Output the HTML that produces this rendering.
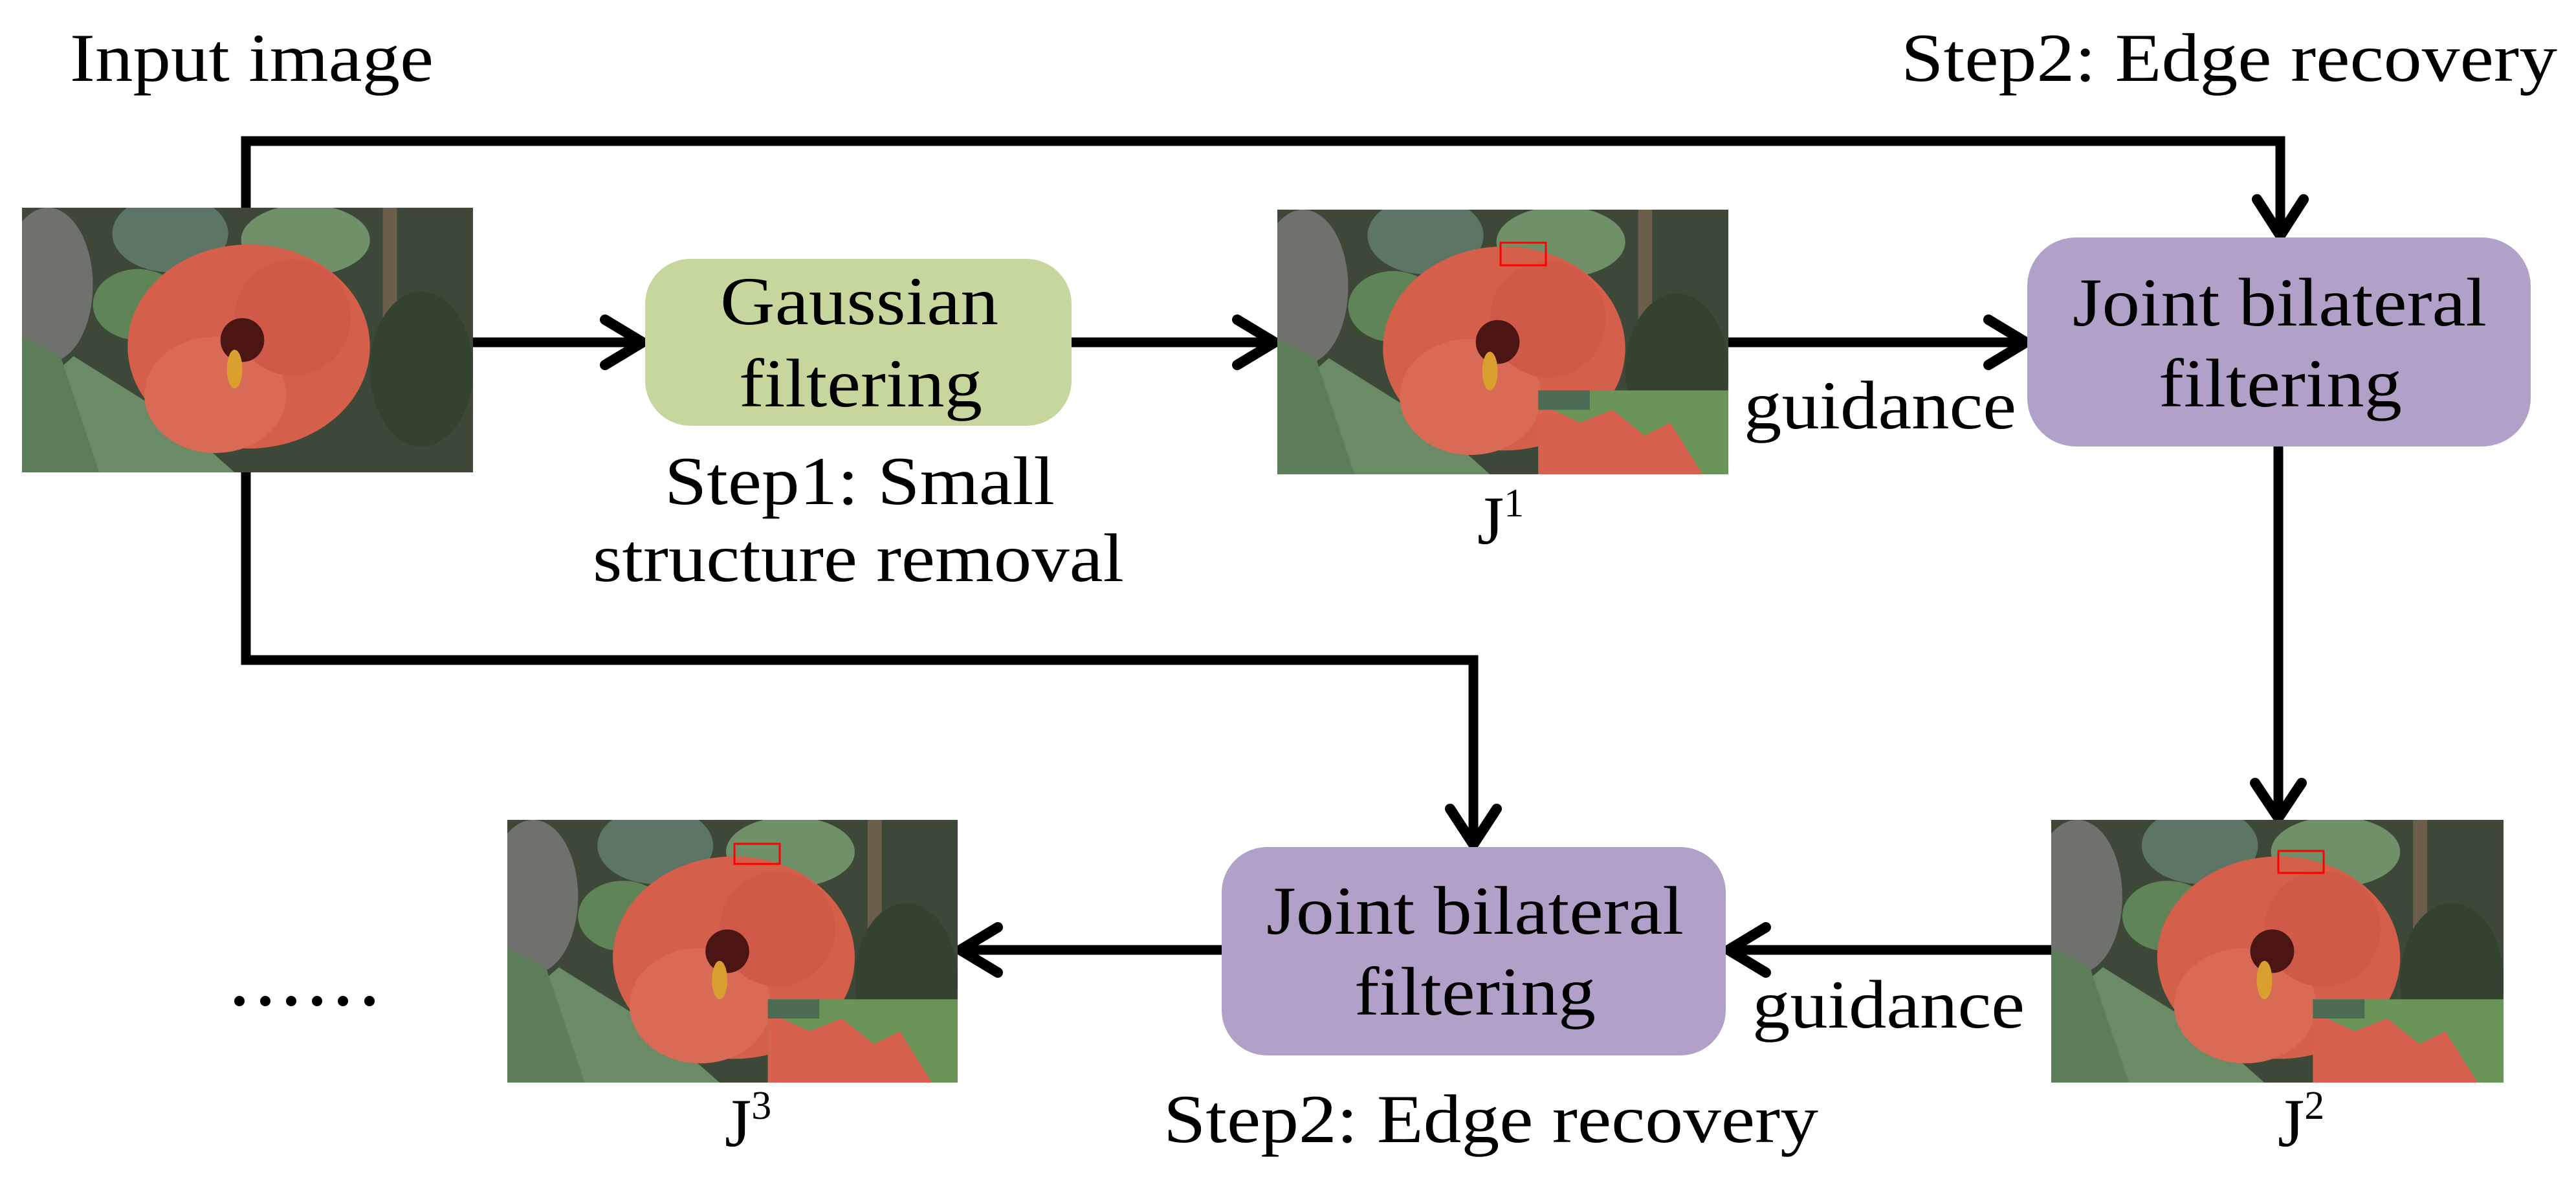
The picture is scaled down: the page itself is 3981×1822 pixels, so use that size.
<!DOCTYPE html>
<html><head><meta charset="utf-8"><style>
html,body{margin:0;padding:0;background:#fff;}
svg{display:block;}
text{font-family:"Liberation Serif",serif;fill:#000;}
</style></head><body>
<svg width="3981" height="1822" viewBox="0 0 3981 1822" xmlns="http://www.w3.org/2000/svg">
<defs>
<symbol id="photo" viewBox="0 0 700 410" preserveAspectRatio="none">
  <rect width="700" height="410" fill="#3e4838"/>
  <ellipse cx="40" cy="120" rx="70" ry="120" fill="#6f716c"/>
  <ellipse cx="230" cy="40" rx="90" ry="60" fill="#5d7565"/>
  <ellipse cx="440" cy="50" rx="100" ry="55" fill="#6f9068"/>
  <ellipse cx="180" cy="150" rx="70" ry="55" fill="#5f8458"/>
  <rect x="560" y="0" width="22" height="300" fill="#6b5e4a"/>
  <ellipse cx="620" cy="250" rx="80" ry="120" fill="#34432f"/>
  <polygon points="0,300 80,230 240,330 330,410 0,410" fill="#6b8a66"/>
  <polygon points="0,200 60,230 120,410 0,410" fill="#5d7c5a"/>
  <ellipse cx="352" cy="215" rx="188" ry="158" fill="#d4604c"/>
  <ellipse cx="300" cy="290" rx="110" ry="90" fill="#d96a56"/>
  <ellipse cx="420" cy="170" rx="90" ry="90" fill="#cf5a47"/>
  <circle cx="342" cy="205" r="34" fill="#4a1512"/>
  <ellipse cx="330" cy="250" rx="12" ry="30" fill="#d9a030"/>
</symbol>
<symbol id="photoI" viewBox="0 0 700 410" preserveAspectRatio="none">
  <use href="#photo" x="0" y="0" width="700" height="410"/>
  <rect x="405" y="280" width="295" height="130" fill="#6a9458"/>
  <polygon points="405,300 470,330 520,310 570,350 610,330 660,410 405,410" fill="#d9614f"/>
  <rect x="405" y="280" width="80" height="30" fill="#4d6a52"/>
</symbol>
</defs>

<!-- connectors -->
<g stroke="#000" stroke-width="15" fill="none" stroke-linejoin="miter">
  <polyline points="380,730 380,218 3524,218 3524,360"/>
  <polyline points="380,730 380,1020 2277,1020 2277,1302"/>
  <line x1="731" y1="529" x2="990" y2="529"/>
  <line x1="1656" y1="529" x2="1967" y2="529"/>
  <line x1="2671" y1="529" x2="3126" y2="529"/>
  <line x1="3521" y1="690" x2="3521" y2="1260"/>
  <line x1="3170" y1="1468" x2="2674" y2="1468"/>
  <line x1="1888" y1="1468" x2="1487" y2="1468"/>
</g>
<g stroke="#000" stroke-width="16" fill="none" stroke-linecap="round" stroke-linejoin="round">
  <polyline points="935,494 993,529 935,564"/>
  <polyline points="1912,494 1970,529 1912,564"/>
  <polyline points="3073,494 3131,529 3073,564"/>
  <polyline points="3488,308 3524,364 3560,308"/>
  <polyline points="3485,1210 3521,1264 3557,1210"/>
  <polyline points="2241,1250 2277,1305 2313,1250"/>
  <polyline points="2729,1433 2671,1468 2729,1503"/>
  <polyline points="1542,1433 1484,1468 1542,1503"/>
</g>

<!-- boxes -->
<rect x="997" y="400" width="659" height="258" rx="70" fill="#c5d79c"/>
<rect x="3133" y="367" width="778" height="323" rx="75" fill="#b1a1c8"/>
<rect x="1888" y="1309" width="779" height="322" rx="70" fill="#b1a1c8"/>

<!-- photos -->
<use href="#photo" x="34" y="321" width="697" height="409"/>
<use href="#photoI" x="1974" y="324" width="697" height="409"/>
<rect x="2319" y="375" width="70" height="35" fill="none" stroke="#f00" stroke-width="3"/>
<use href="#photoI" x="3170" y="1267" width="699" height="406"/>
<rect x="3521" y="1315" width="70" height="34" fill="none" stroke="#f00" stroke-width="3"/>
<use href="#photoI" x="784" y="1267" width="696" height="406"/>
<rect x="1135" y="1304" width="70" height="31" fill="none" stroke="#f00" stroke-width="3"/>

<!-- dots -->
<g fill="#000">
  <circle cx="370" cy="1547" r="8"/><circle cx="410" cy="1547" r="8"/><circle cx="450" cy="1547" r="8"/>
  <circle cx="490" cy="1547" r="8"/><circle cx="530" cy="1547" r="8"/><circle cx="571" cy="1547" r="8"/>
</g>

<!-- text -->
<g font-size="106">
  <text x="108" y="125" textLength="562" lengthAdjust="spacingAndGlyphs">Input image</text>
  <text x="2938" y="125" textLength="1014" lengthAdjust="spacingAndGlyphs">Step2: Edge recovery</text>
  <text x="1113" y="501" textLength="430" lengthAdjust="spacingAndGlyphs">Gaussian</text>
  <text x="1142" y="628" textLength="376" lengthAdjust="spacingAndGlyphs">filtering</text>
  <text x="1027" y="779" textLength="603" lengthAdjust="spacingAndGlyphs">Step1: Small</text>
  <text x="916" y="898" textLength="821" lengthAdjust="spacingAndGlyphs">structure removal</text>
  <text x="3203" y="503" textLength="640" lengthAdjust="spacingAndGlyphs">Joint bilateral</text>
  <text x="3336" y="628" textLength="376" lengthAdjust="spacingAndGlyphs">filtering</text>
  <text x="2695" y="662" textLength="421" lengthAdjust="spacingAndGlyphs">guidance</text>
  <text x="2708" y="1588" textLength="421" lengthAdjust="spacingAndGlyphs">guidance</text>
  <text x="1957" y="1443" textLength="645" lengthAdjust="spacingAndGlyphs">Joint bilateral</text>
  <text x="2093" y="1568" textLength="373" lengthAdjust="spacingAndGlyphs">filtering</text>
  <text x="1798" y="1765" textLength="1012" lengthAdjust="spacingAndGlyphs">Step2: Edge recovery</text>
  <text x="2283" y="840">J<tspan font-size="62" dy="-42">1</tspan></text>
  <text x="3520" y="1771">J<tspan font-size="62" dy="-42">2</tspan></text>
  <text x="1120" y="1771">J<tspan font-size="62" dy="-42">3</tspan></text>
</g>
</svg>
</body></html>
